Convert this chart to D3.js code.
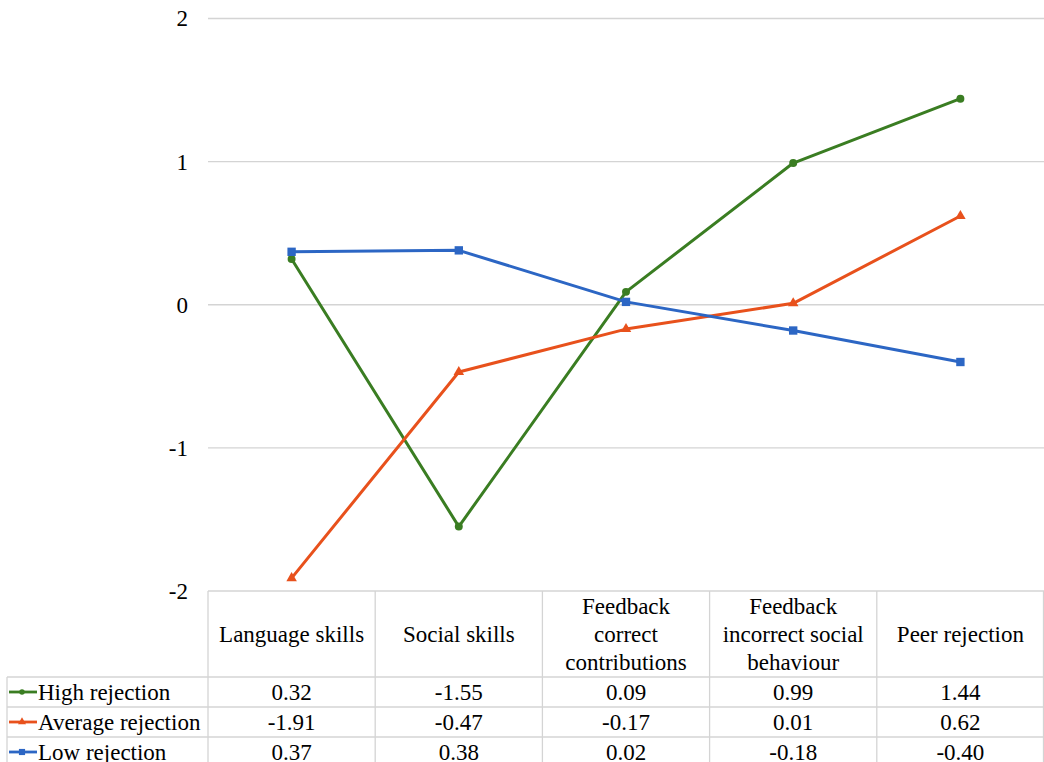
<!DOCTYPE html>
<html>
<head>
<meta charset="utf-8">
<script src="https://cdn.jsdelivr.net/npm/d3@7/dist/d3.min.js"></script>
</head>
<body style="margin:0">
<svg id="chart" width="1044" height="762"></svg>
<script>
// Categories (with header line breaks) and series values
const categories = ["Language skills", "Social skills", "Feedback correct contributions", "Feedback incorrect social behaviour", "Peer rejection"];
const categoryLines = [["Language skills"], ["Social skills"], ["Feedback", "correct", "contributions"], ["Feedback", "incorrect social", "behaviour"], ["Peer rejection"]];
const seriesNames = ["High rejection", "Average rejection", "Low rejection"];
const highRejection = [0.32, -1.55, 0.09, 0.99, 1.44];
const averageRejection = [-1.91, -0.47, -0.17, 0.01, 0.62];
const lowRejection = [0.37, 0.38, 0.02, -0.18, -0.40];
const yTicks = [-2, -1, 0, 1, 2];

const series = [
  { name: seriesNames[0], values: highRejection, color: "#3a7d22", marker: d3.symbolCircle, size: 50, keySize: 24 },
  { name: seriesNames[1], values: averageRejection, color: "#e8511c", marker: d3.symbolTriangle, size: 48, keySize: 28 },
  { name: seriesNames[2], values: lowRejection, color: "#2c66c4", marker: d3.symbolSquare, size: 70, keySize: 38 }
];

const FONT = '"Liberation Serif"';
const FS = 23;
const svg = d3.select("#chart");
const plotLeft = 208, plotRight = 1044;
const gridColor = "#d4d4d4";
const fmt = v => d3.format(".2f")(v).replace("\u2212", "-");

const x = d3.scaleBand().domain(categories).range([plotLeft, plotRight]).padding(0);
const y = d3.scaleLinear().domain([-2, 2]).range([591, 18.5]);
const cx = c => x(c) + x.bandwidth() / 2;

// Horizontal gridlines
svg.append("g").selectAll("line").data(yTicks).join("line")
  .attr("x1", plotLeft).attr("x2", plotRight)
  .attr("y1", d => y(d)).attr("y2", d => y(d))
  .attr("stroke", gridColor).attr("stroke-width", 1.3);

// Y axis labels
const yAxis = d3.axisLeft(y).tickValues(yTicks).tickFormat(d => String(d)).tickSize(0).tickPadding(0);
const yg = svg.append("g").attr("transform", "translate(188,0)").call(yAxis);
yg.select(".domain").remove();
yg.attr("font-family", null);
yg.selectAll("text").attr("font-size", FS).attr("fill", "#000").style("font-family", FONT);

// Data table
const headerTop = 591, headerBottom = 677, rowH = 30, legendLeft = 7;
const tableG = svg.append("g");
const bounds = categories.map(c => x(c)).concat([plotRight - 0.5]);
tableG.selectAll("line.col").data(bounds).join("line")
  .attr("x1", d => d).attr("x2", d => d)
  .attr("y1", headerTop).attr("y2", 762)
  .attr("stroke", gridColor).attr("stroke-width", 1.3);
tableG.append("line").attr("x1", legendLeft).attr("x2", legendLeft)
  .attr("y1", headerBottom).attr("y2", 762).attr("stroke", gridColor).attr("stroke-width", 1.3);
const rowLines = [0, 1, 2].map(i => headerBottom + i * rowH);
tableG.selectAll("line.row").data(rowLines).join("line")
  .attr("x1", legendLeft).attr("x2", plotRight)
  .attr("y1", d => d).attr("y2", d => d)
  .attr("stroke", gridColor).attr("stroke-width", 1.3);

// Header labels
const headerMid = (headerTop + headerBottom) / 2;
const lineGap = 28;
categories.forEach((c, i) => {
  const lines = categoryLines[i];
  lines.forEach((ln, j) => {
    tableG.append("text").attr("text-anchor", "middle").attr("font-size", FS)
      .attr("fill", "#000").style("font-family", FONT)
      .attr("x", cx(c))
      .attr("y", headerMid + (j - (lines.length - 1) / 2) * lineGap)
      .attr("dy", "0.35em").text(ln);
  });
});

// Value rows with legend keys
series.forEach((s, r) => {
  const cy = headerBottom + r * rowH + rowH / 2;
  tableG.append("line").attr("x1", 9).attr("x2", 37).attr("y1", cy).attr("y2", cy)
    .attr("stroke", s.color).attr("stroke-width", 2.8);
  tableG.append("path").attr("d", d3.symbol(s.marker, s.keySize)())
    .attr("transform", `translate(22,${cy})`).attr("fill", s.color);
  tableG.append("text").attr("x", 38).attr("y", cy).attr("dy", "0.35em")
    .attr("font-size", FS).attr("fill", "#000").style("font-family", FONT).text(s.name);
  s.values.forEach((v, i) => {
    tableG.append("text").attr("x", cx(categories[i]))
      .attr("y", cy).attr("dy", "0.35em").attr("text-anchor", "middle")
      .attr("font-size", FS).attr("fill", "#000").style("font-family", FONT).text(fmt(v));
  });
});

// Lines and markers
const line = d3.line().x((d, i) => cx(categories[i])).y(d => y(d));
series.forEach(s => {
  svg.append("path").datum(s.values).attr("d", line)
    .attr("fill", "none").attr("stroke", s.color).attr("stroke-width", 3)
    .attr("stroke-linejoin", "round");
  svg.append("g").selectAll("path").data(s.values).join("path")
    .attr("d", d3.symbol(s.marker, s.size)())
    .attr("transform", (d, i) => `translate(${cx(categories[i])},${y(d)})`)
    .attr("fill", s.color);
});
</script>
</body>
</html>
